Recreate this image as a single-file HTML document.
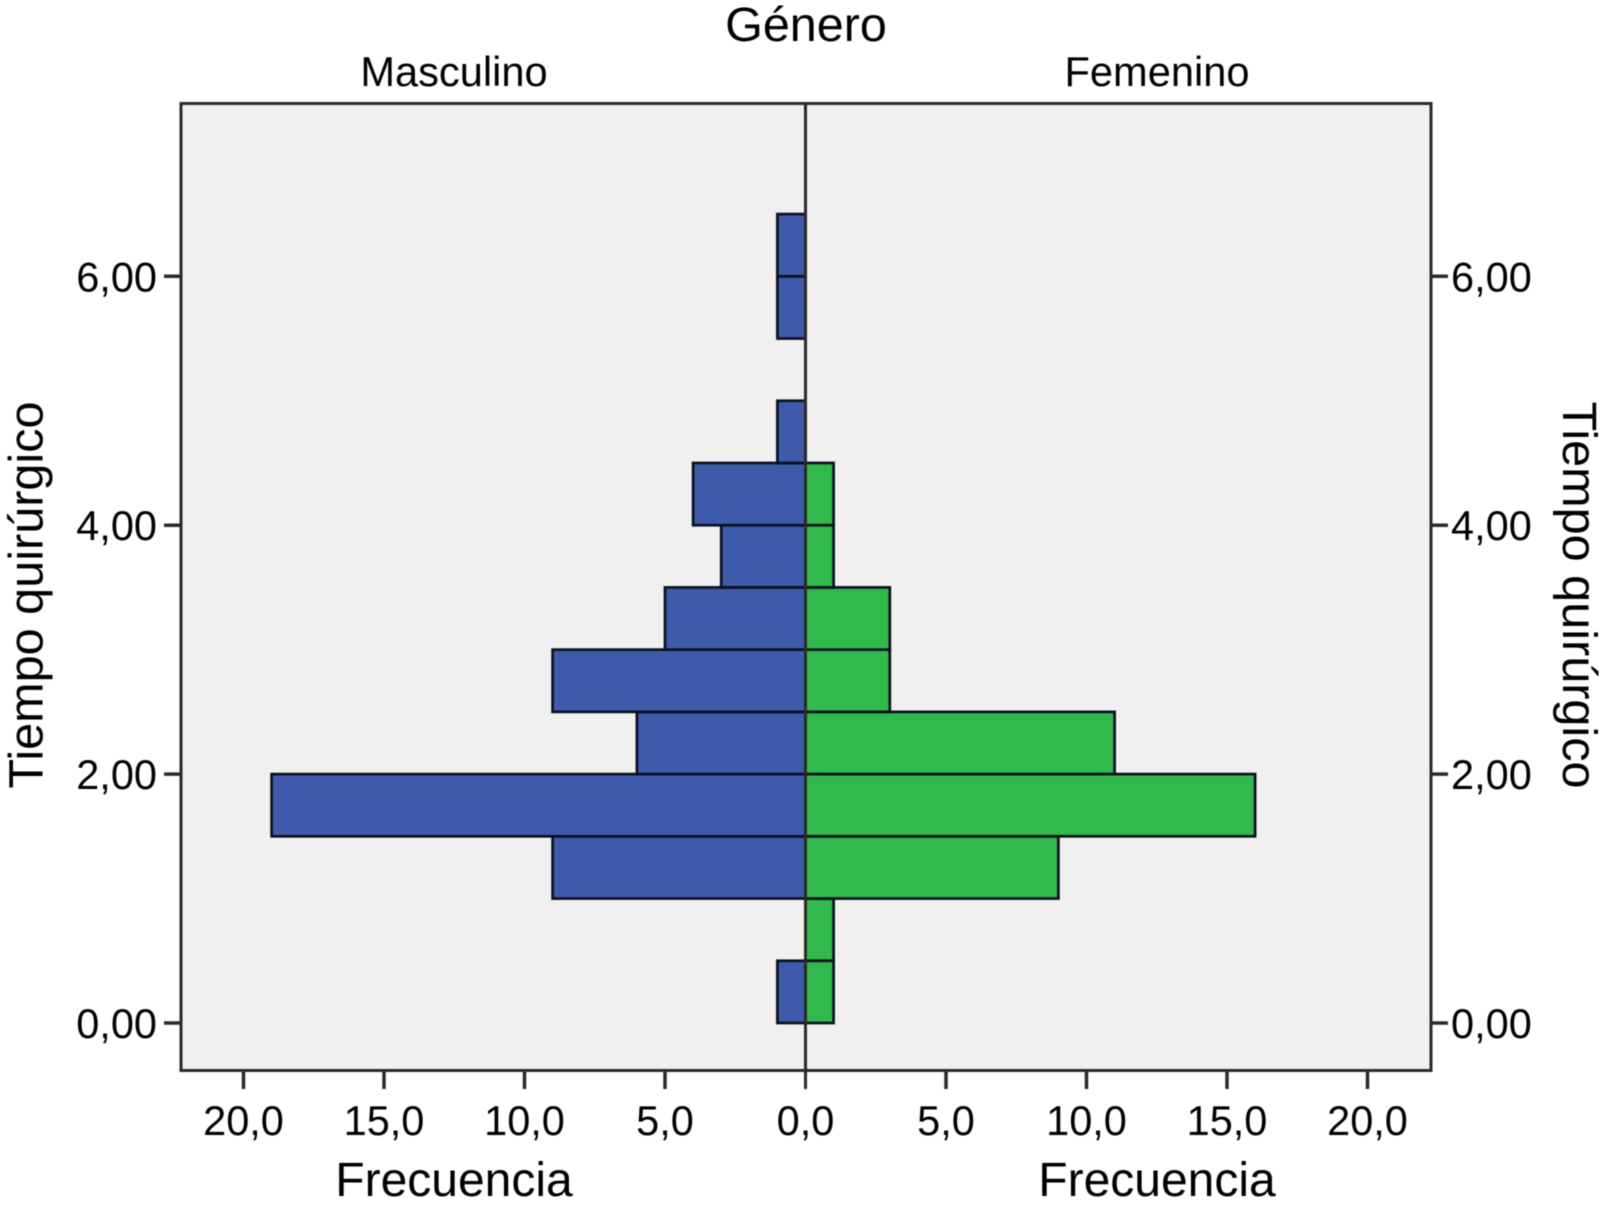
<!DOCTYPE html>
<html lang="es">
<head>
<meta charset="utf-8">
<title>Tiempo quirúrgico por género</title>
<style>
  html, body { margin: 0; padding: 0; background: #fff; }
  svg { display: block; filter: blur(0.5px); }
  text { font-family: "Liberation Sans", Arial, sans-serif; fill: #000; }
</style>
</head>
<body>
<svg id="chart" xmlns="http://www.w3.org/2000/svg" width="1606" height="1207" viewBox="0 0 1606 1207">
  <rect x="181" y="103.5" width="1250" height="967" fill="#f0f0f0"></rect>
  <g id="bars"></g>
  <rect x="181" y="103.5" width="1250" height="967" fill="none" stroke="#2a2a2a" stroke-width="3"></rect>
  <g id="axes"></g>
  <text x="806" y="41" font-size="48.5" text-anchor="middle">Género</text>
  <text x="454" y="86" font-size="41.6" text-anchor="middle">Masculino</text>
  <text x="1157" y="86" font-size="41.6" text-anchor="middle">Femenino</text>
  <text x="454" y="1196" font-size="48" text-anchor="middle">Frecuencia</text>
  <text x="1157" y="1196" font-size="48" text-anchor="middle">Frecuencia</text>
  <text transform="translate(42.5,595) rotate(-90)" font-size="48.6" text-anchor="middle">Tiempo quirúrgico</text>
  <text transform="translate(1563,595) rotate(90)" font-size="48.6" text-anchor="middle">Tiempo quirúrgico</text>
</svg>
<script>
// Histogram bins (lower edge of each 0.5-wide bin, in hours)
const binStarts = [0, 0.5, 1, 1.5, 2, 2.5, 3, 3.5, 4, 4.5, 5, 5.5, 6];
const binWidth = 0.5;
// Counts
const maleCounts = [1, 0, 9, 19, 6, 9, 5, 3, 4, 1, 0, 1, 1];
const femaleCounts = [1, 1, 9, 16, 11, 3, 3, 1, 1, 0, 0, 0, 0];
// Axis ticks
const yTicks = [0, 2, 4, 6];
const yTickLabels = ['0,00', '2,00', '4,00', '6,00'];
const xTicks = [5, 10, 15, 20];
const xTickLabels = ['5,0', '10,0', '15,0', '20,0'];

const SVG_NS = 'http://www.w3.org/2000/svg';
const centerX = 805.5;
const pxPerCount = 28.1;
const zeroY = 1023;
const pxPerUnit = 124.45;
const plotTop = 103.5;
const plotBottom = 1070.5;
const plotLeft = 181;
const plotRight = 1431;

function xMale(v) { return centerX - v * pxPerCount; }
function xFemale(v) { return centerX + v * pxPerCount; }
function yScale(v) { return zeroY - v * pxPerUnit; }

const barsGroup = document.getElementById('bars');
const axesGroup = document.getElementById('axes');

function addBar(x1, x2, start, fill) {
  const rect = document.createElementNS(SVG_NS, 'rect');
  const top = yScale(start + binWidth);
  const bottom = yScale(start);
  rect.setAttribute('x', Math.min(x1, x2));
  rect.setAttribute('y', top);
  rect.setAttribute('width', Math.abs(x2 - x1));
  rect.setAttribute('height', bottom - top);
  rect.setAttribute('fill', fill);
  rect.setAttribute('stroke', '#0a1020');
  rect.setAttribute('stroke-width', '2.7');
  barsGroup.appendChild(rect);
  return rect;
}

function addLine(x1, y1, x2, y2, width) {
  const line = document.createElementNS(SVG_NS, 'line');
  line.setAttribute('x1', x1);
  line.setAttribute('y1', y1);
  line.setAttribute('x2', x2);
  line.setAttribute('y2', y2);
  line.setAttribute('stroke', '#2a2a2a');
  line.setAttribute('stroke-width', width);
  axesGroup.appendChild(line);
  return line;
}

function addLabel(x, y, anchor, content) {
  const label = document.createElementNS(SVG_NS, 'text');
  label.setAttribute('x', x);
  label.setAttribute('y', y);
  label.setAttribute('font-size', '41.5');
  label.setAttribute('text-anchor', anchor);
  label.textContent = content;
  axesGroup.appendChild(label);
  return label;
}

binStarts.forEach(function (start, i) {
  if (maleCounts[i] > 0) {
    const maleBar = addBar(xMale(maleCounts[i]), centerX, start, '#3f5aab');
    
    
  }
  if (femaleCounts[i] > 0) {
    const femaleBar = addBar(centerX, xFemale(femaleCounts[i]), start, '#31b94b');
    
    
  }
});

const centerLine = addLine(centerX, plotTop, centerX, 1089, 3);



const zeroLabel = addLabel(centerX, 1135, 'middle', '0,0');



xTicks.forEach(function (v, i) {
  const leftTick = addLine(xMale(v), plotBottom, xMale(v), 1089, 3.5);
  
  
  const rightTick = addLine(xFemale(v), plotBottom, xFemale(v), 1089, 3.5);
  
  
  const leftLabel = addLabel(xMale(v), 1135, 'middle', xTickLabels[i]);
  
  
  const rightLabel = addLabel(xFemale(v), 1135, 'middle', xTickLabels[i]);
  
  
});

yTicks.forEach(function (v, i) {
  const y = yScale(v);
  const leftTick = addLine(164, y, plotLeft, y, 3.5);
  
  
  const rightTick = addLine(plotRight, y, 1448, y, 3.5);
  
  
  const leftLabel = addLabel(157, y + 15, 'end', yTickLabels[i]);
  
  
  const rightLabel = addLabel(1451, y + 15, 'start', yTickLabels[i]);
  
  
});
</script>
</body>
</html>
